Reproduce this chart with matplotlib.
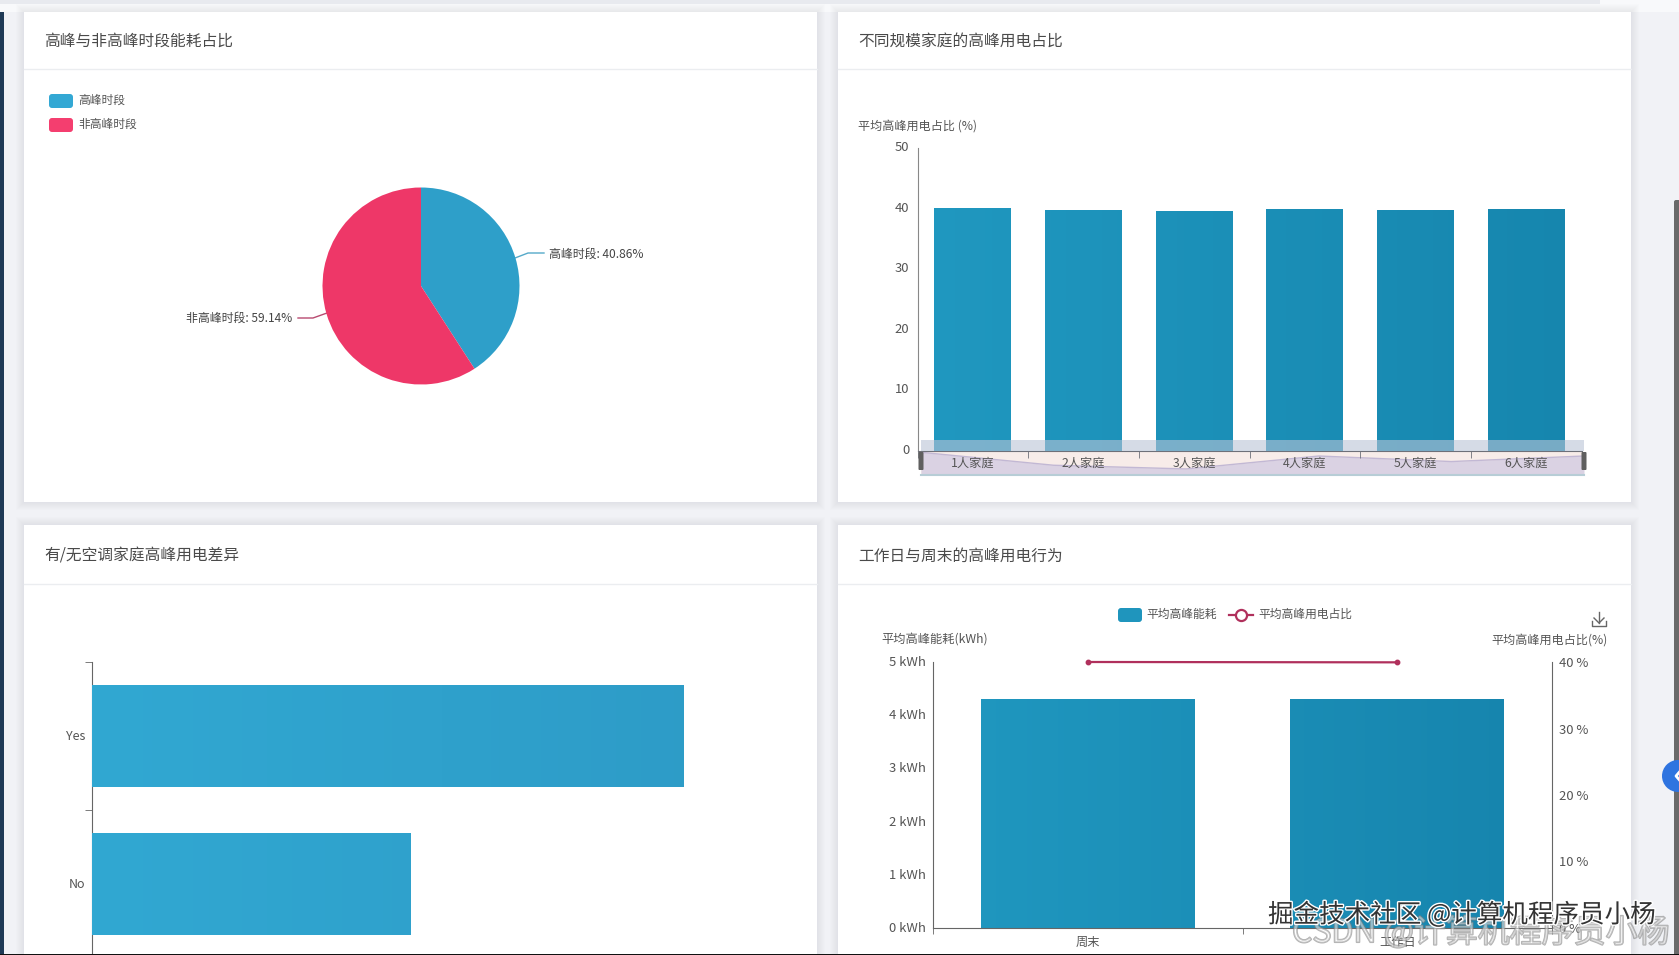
import numpy as np
import matplotlib
matplotlib.use('Agg')
import matplotlib.pyplot as plt
import matplotlib.patheffects as pe
from matplotlib.colors import LinearSegmentedColormap
from matplotlib.patches import FancyBboxPatch, Rectangle, Circle
from matplotlib.transforms import ScaledTranslation

plt.rcParams['font.family'] = ['Noto Sans CJK SC', 'DejaVu Sans']

W, H = 1679, 955

# Peak / off-peak share
period_names = ['高峰时段', '非高峰时段']
period_share = [40.86, 59.14]

# Peak share by household size
family_names = ['1人家庭', '2人家庭', '3人家庭', '4人家庭', '5人家庭', '6人家庭']
family_share = [40.1, 39.75, 39.65, 40.0, 39.85, 40.0]

# Air conditioning comparison
ac_names = ['No', 'Yes']
ac_energy = [3.0, 5.56]

# Weekday vs weekend
day_names = ['周末', '工作日']
day_energy = [4.31, 4.31]
day_share = [40.0, 39.95]

TEXT = '#555555'
AXIS = '#6e7079'
LINE = '#b0305c'
fig = plt.figure(figsize=(W / 100, H / 100), dpi=100, facecolor='#f1f2f6')


def px_axes(x0, y0, x1, y1, zorder=2):
    # axes placed by pixel box, y measured from the top
    ax = fig.add_axes([x0 / W, 1 - y1 / H, (x1 - x0) / W, (y1 - y0) / H], zorder=zorder)
    ax.patch.set_alpha(0)
    return ax


def overlay(zorder):
    ax = px_axes(0, 0, W, H, zorder)
    ax.set_xlim(0, W)
    ax.set_ylim(H, 0)
    ax.axis('off')
    return ax


def grad_fill(ax, bar, c0, c1):
    # left to right gradient over the whole plot, clipped to one bar
    cmap = LinearSegmentedColormap.from_list('bar', [c0, c1])
    xlim, ylim = ax.get_xlim(), ax.get_ylim()
    im = ax.imshow(np.linspace(0, 1, 256).reshape(1, -1), cmap=cmap, aspect='auto',
                   extent=(xlim[0], xlim[1], ylim[0], ylim[1]), zorder=3)
    im.set_clip_path(bar)
    ax.set_xlim(xlim)
    ax.set_ylim(ylim)


def style_axis(ax):
    for s in ax.spines.values():
        s.set_visible(False)
    ax.tick_params(colors=AXIS, labelcolor=TEXT, labelsize=9.4, length=5, width=1)


def lift_labels(ax, px=2):
    # value labels sit slightly above their tick position
    shift = ScaledTranslation(0, px / 100, fig.dpi_scale_trans)
    for lab in ax.get_yticklabels():
        lab.set_transform(lab.get_transform() + shift)


def round_box(ax, x0, y0, x1, y1, color):
    ax.add_patch(FancyBboxPatch((x0 + 3, y0 + 3), x1 - x0 - 6, y1 - y0 - 6,
                                boxstyle='round,pad=3', fc=color, ec='none'))


bg = overlay(0)
top = overlay(10)

# page furniture and cards
bg.add_patch(Rectangle((0, 0), W, 12, fc='#f8f9fb', ec='none'))
bg.add_patch(Rectangle((0, 0), 1600, 4.5, fc='#e8eaef', ec='none'))
bg.add_patch(Rectangle((0, 12), 4, H, fc='#1f3a56', ec='none'))
cards = [(24, 12, 817, 502, '高峰与非高峰时段能耗占比', 69, 44),
         (838, 12, 1631, 502, '不同规模家庭的高峰用电占比', 69, 858),
         (24, 525, 817, 970, '有/无空调家庭高峰用电差异', 584, 44),
         (838, 525, 1631, 970, '工作日与周末的高峰用电行为', 584, 858)]
for x0, y0, x1, y1, title, line_y, title_x in cards:
    for grow in range(1, 9):
        bg.add_patch(Rectangle((x0 - grow, y0 - grow), x1 - x0 + 2 * grow, y1 - y0 + 2 * grow,
                               fc='#a4a8b8', ec='none', alpha=0.02))
    bg.add_patch(Rectangle((x0, y0), x1 - x0, y1 - y0, fc='white', ec='none'))
    bg.plot([x0, x1], [line_y, line_y], color='#ebedf0', lw=1)
    bg.text(title_x, line_y - 28, title, fontsize=11.3, color='#4a4a4a', va='center')

# pie
pie_ax = px_axes(322.5, 187.5, 519.5, 384.5)
pie_colors = ['#2e9fc9', '#ee3768']
pie_ax.pie(period_share, colors=pie_colors, startangle=90, counterclock=False, radius=1)
pie_ax.set_xlim(-1, 1)
pie_ax.set_ylim(-1, 1)
round_box(bg, 49, 94, 73, 108, '#33a8d4')
round_box(bg, 49, 118, 73, 132, '#f43e6f')
bg.text(78, 100.5, period_names[0], fontsize=8.5, color=TEXT, va='center')
bg.text(78, 124, period_names[1], fontsize=8.5, color=TEXT, va='center')
bg.plot([515, 528, 544], [258, 253, 253], color='#55a9c9', lw=1, zorder=3)
bg.plot([327, 313, 298], [313, 318, 318], color='#b84a70', lw=1, zorder=3)
bg.text(549, 254, '%s: %.2f%%' % (period_names[0], period_share[0]), fontsize=8.6,
        color='#444444', va='center')
bg.text(292, 318, '%s: %.2f%%' % (period_names[1], period_share[1]), fontsize=8.6,
        color='#444444', va='center', ha='right')

# household size bars
fam_ax = px_axes(917.5, 148, 1581.5, 451)
fam_x = np.arange(len(family_names))
fam_ax.set_xlim(-0.5, 5.5)
fam_ax.set_ylim(0, 50)
fam_bars = fam_ax.bar(fam_x, family_share, width=0.695, color='none')
for b in fam_bars:
    grad_fill(fam_ax, b, '#2098c0', '#1686ae')
style_axis(fam_ax)
fam_ax.spines['left'].set_visible(True)
fam_ax.spines['left'].set_color('#888888')
fam_ax.spines['bottom'].set_visible(True)
fam_ax.spines['bottom'].set_color(AXIS)
fam_ax.spines['bottom'].set_zorder(5)
fam_ax.set_yticks([0, 10, 20, 30, 40, 50])
fam_ax.tick_params(axis='y', length=0, pad=6)
lift_labels(fam_ax)
fam_ax.set_xticks(fam_x, family_names)
fam_ax.set_xticks(np.arange(-0.5, 6), minor=True)
fam_ax.tick_params(axis='x', which='major', length=0, pad=4, labelsize=8.8)
fam_ax.tick_params(axis='x', which='minor', length=5, color=AXIS)
bg.text(858, 126, '平均高峰用电占比 (%)', fontsize=8.7, color=TEXT, va='center')

# slider below the household bars, its outline follows the same values
slider_x = np.linspace(921, 1584, len(family_share))
slider_y = 456 - (np.array(family_share) - 40.0) * 37
bg.add_patch(Rectangle((921, 452), 663, 23, fc='#f7ece9', ec='none'))
bg.fill_between(slider_x, slider_y, 474, color='#dad2e3', lw=0)
bg.plot(slider_x, slider_y, color='#c2b8d4', lw=1)
bg.plot([921, 1584], [474.5, 474.5], color='#b7cdd6', lw=1.5)
top.add_patch(Rectangle((921, 440), 663, 11, fc='#b9c4d6', ec='none', alpha=0.6))
for hx in (921, 1584):
    top.add_patch(FancyBboxPatch((hx - 1.5, 453), 3, 16, boxstyle='round,pad=1',
                                 fc='#5f5f5f', ec='none'))

# air conditioning bars
ac_ax = px_axes(92, 662, 790, 958)
ac_ax.set_xlim(0, 698 / 106.3)
ac_ax.set_ylim(-0.5, 1.5)
ac_bars = ac_ax.barh(ac_names, ac_energy, height=0.69, color='none')
for b in ac_bars:
    grad_fill(ac_ax, b, '#31a8d2', '#2d9ac6')
style_axis(ac_ax)
ac_ax.spines['left'].set_visible(True)
ac_ax.spines['left'].set_color('#666666')
ac_ax.set_yticks([0, 1], ac_names)
ac_ax.set_yticks([-0.5, 0.5, 1.5], minor=True)
ac_ax.tick_params(axis='y', which='major', length=0, pad=5, labelsize=9)
ac_ax.tick_params(axis='y', which='minor', length=5, color='#666666')
lift_labels(ac_ax, 1)
ac_ax.set_xticks([])

# weekday / weekend combo
day_ax = px_axes(933, 662, 1552, 928)
day_x = np.arange(len(day_names))
day_ax.set_xlim(-0.5, 1.5)
day_ax.set_ylim(0, 5)
day_bars = day_ax.bar(day_x, day_energy, width=0.69, color='none')
for b in day_bars:
    grad_fill(day_ax, b, '#2098c0', '#1684ad')
style_axis(day_ax)
day_ax.spines['left'].set_visible(True)
day_ax.spines['left'].set_color('#666666')
day_ax.spines['bottom'].set_visible(True)
day_ax.spines['bottom'].set_color('#666666')
day_ax.spines['bottom'].set_zorder(5)
day_ax.set_yticks(range(6), ['%d kWh' % v for v in range(6)])
day_ax.tick_params(axis='y', length=0, pad=5)
lift_labels(day_ax, 1)
day_ax.set_xticks(day_x, day_names)
day_ax.set_xticks([-0.5, 0.5, 1.5], minor=True)
day_ax.tick_params(axis='x', which='major', length=0, pad=6, labelsize=8.8)
day_ax.tick_params(axis='x', which='minor', length=4, color='#666666')

share_ax = day_ax.twinx()
share_ax.set_zorder(3)
share_ax.patch.set_alpha(0)
share_ax.set_ylim(0, 40)
share_ax.plot(day_x, day_share, color=LINE, lw=1.6, marker='o', ms=3.2, clip_on=False, zorder=6)
style_axis(share_ax)
share_ax.spines['right'].set_visible(True)
share_ax.spines['right'].set_color('#666666')
share_ax.set_yticks(range(0, 41, 10), ['%d %%' % v for v in range(0, 41, 10)])
share_ax.tick_params(axis='y', length=0, pad=5)
lift_labels(share_ax, 0)

bg.text(881, 640, '平均高峰能耗(kWh)', fontsize=8.8, color=TEXT, va='center')
bg.text(1608, 640.5, '平均高峰用电占比(%)', fontsize=8.7, color=TEXT, va='center', ha='right')
round_box(bg, 1118, 608, 1142, 622, '#1f95bd')
bg.text(1146, 614, '平均高峰能耗', fontsize=8.5, color=TEXT, va='center')
bg.plot([1229, 1253], [615, 615], color=LINE, lw=1.6)
bg.plot([1241], [615], marker='o', ms=8, mfc='white', mec=LINE, mew=1.6)
bg.text(1258, 614, '平均高峰用电占比', fontsize=8.5, color=TEXT, va='center')

# download icon
bg.plot([1592, 1592, 1606, 1606], [621, 626, 626, 621], color='#666666', lw=1)
bg.plot([1599, 1599], [612, 623], color='#666666', lw=1)
bg.plot([1594, 1599, 1604], [618, 623, 618], color='#666666', lw=1)

# scrollbar and floating button
top.add_patch(FancyBboxPatch((1676, 202), 6, 760, boxstyle='round,pad=2', fc='#6a6a6a', ec='none'))
top.add_patch(Circle((1678, 776), 16, fc='#2f74e0', ec='none'))
top.plot([1682, 1676, 1682], [769, 776, 783], color='white', lw=2)

# overlaid captions at the lower right
top.text(1292, 933, 'CSDN @计算机程序员小杨', fontsize=23, color=(1, 1, 1, 0.3), va='center',
         path_effects=[pe.withStroke(linewidth=1.3, foreground=(0.5, 0.5, 0.5, 0.6))])
top.text(1268, 915, '掘金技术社区 @计算机程序员小杨', fontsize=18.4, color='#333333', va='center',
         path_effects=[pe.withStroke(linewidth=2, foreground='white')])

top.add_patch(Rectangle((0, 953.5), W, 2, fc='#111111', ec='none'))

fig.savefig('out.png', dpi=100, facecolor=fig.get_facecolor())
